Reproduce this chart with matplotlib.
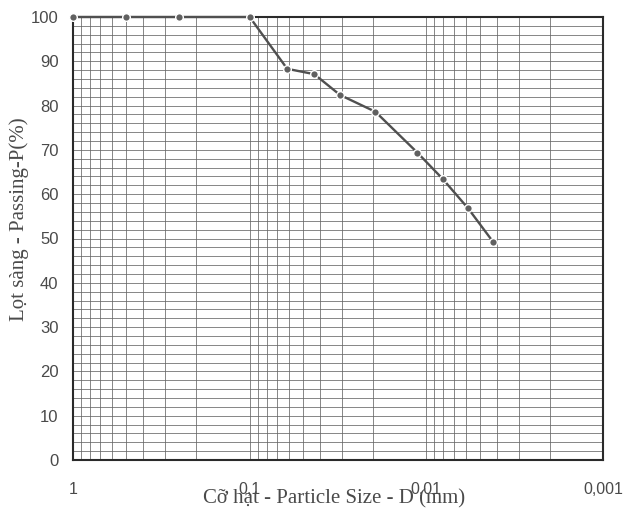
import matplotlib
matplotlib.use("Agg")
import matplotlib.pyplot as plt
from matplotlib.ticker import FixedLocator, LogLocator, MultipleLocator, NullFormatter

# Grain size distribution (sieve + hydrometer)
particle_size_mm = [1.0, 0.5, 0.25, 0.1, 0.0613, 0.0431, 0.0308, 0.0194,
                    0.01125, 0.0081, 0.0058, 0.0042]
passing_pct = [100.0, 100.0, 100.0, 100.0, 88.3, 87.1, 82.4, 78.6,
               69.4, 63.5, 56.8, 49.3]

x_ticks = [1, 0.1, 0.01, 0.001]
x_tick_labels = ["1", "0,1", "0,01", "0,001"]
y_ticks = [0, 10, 20, 30, 40, 50, 60, 70, 80, 90, 100]

fig = plt.figure(figsize=(6.27, 5.16), dpi=100)
ax = fig.add_axes([73 / 627, 56 / 516, 530 / 627, 443 / 516])

ax.set_xscale("log")
ax.set_xlim(1, 0.001)
ax.set_ylim(0, 100)

ax.xaxis.set_major_locator(FixedLocator(x_ticks))
ax.xaxis.set_minor_locator(LogLocator(base=10, subs=range(2, 10), numticks=20))
ax.xaxis.set_minor_formatter(NullFormatter())
ax.set_xticklabels(x_tick_labels)
ax.yaxis.set_major_locator(FixedLocator(y_ticks))
ax.yaxis.set_minor_locator(MultipleLocator(2))

grid_color = "#666666"
ax.grid(True, which="both", axis="both", color=grid_color, linewidth=0.55)
ax.set_axisbelow(True)

for spine in ax.spines.values():
    spine.set_color("#2a2a2a")
    spine.set_linewidth(1.5)

ax.tick_params(which="both", length=0)
ax.tick_params(axis="x", pad=16, labelsize=11.5, labelcolor="#4a4a4a")
ax.tick_params(axis="y", pad=10.5, labelsize=12, labelcolor="#4a4a4a")
for lbl in ax.get_xticklabels() + ax.get_yticklabels():
    lbl.set_fontfamily("Liberation Sans")

ax.plot(particle_size_mm, passing_pct, color="#505050", linewidth=1.7,
        marker="o", markersize=5.5, markerfacecolor="#606060",
        markeredgecolor="white", markeredgewidth=1.0, clip_on=False, zorder=5)

serif = "Liberation Serif"
ax.set_xlabel("Cỡ hạt - Particle Size - D (mm)", fontfamily=serif,
              fontsize=15, color="#4a4a4a")
ax.xaxis.set_label_coords(0.493, -0.066)
ax.set_ylabel("Lọt sàng - Passing-P(%)", fontfamily=serif,
              fontsize=15, color="#4a4a4a")
ax.yaxis.set_label_coords(-0.083, 0.544)

fig.savefig("out.png", dpi=100)
